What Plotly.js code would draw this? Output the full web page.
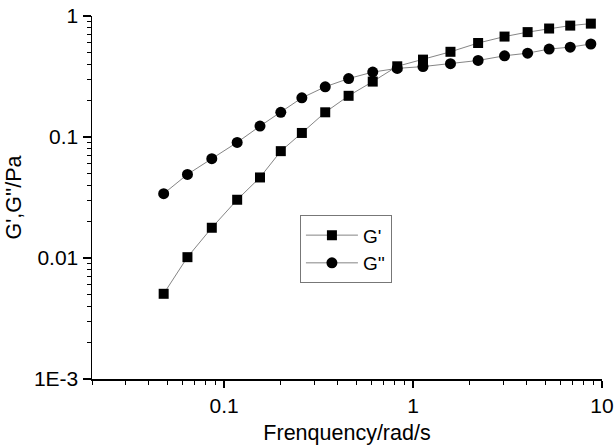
<!DOCTYPE html>
<html>
<head>
<meta charset="utf-8">
<script src="https://cdn.plot.ly/plotly-3.0.1.min.js"></script>
<style>html,body{margin:0;padding:0;background:#fff}#chart{width:614px;height:447px}</style>
</head>
<body>
<div id="chart"></div>
<script>
// Frequency (rad/s)
const frequency = [0.0479, 0.0640, 0.0861, 0.1173, 0.1549, 0.1996, 0.258, 0.343, 0.456, 0.612, 0.825, 1.129, 1.578, 2.21, 3.05, 4.04, 5.25, 6.79, 8.73];
// Storage modulus G' (Pa)
const gPrime = [0.00506, 0.01016, 0.01778, 0.0303, 0.0463, 0.0764, 0.108, 0.160, 0.219, 0.287, 0.384, 0.436, 0.506, 0.598, 0.676, 0.736, 0.788, 0.833, 0.865];
// Loss modulus G'' (Pa)
const gDoublePrime = [0.0340, 0.0491, 0.0662, 0.0902, 0.123, 0.160, 0.2106, 0.260, 0.304, 0.344, 0.369, 0.382, 0.404, 0.429, 0.469, 0.493, 0.533, 0.553, 0.587];
// Axis tick labels
const yTickVals = [0.001, 0.01, 0.1, 1];
const yTickText = ['1E-3', '0.01', '0.1', '1'];
const xTickVals = [0.1, 1, 10];
const xTickText = ['0.1', '1', '10'];

function minorVals(lo, hi) {
  const out = [];
  for (let e = lo; e < hi; e++) {
    for (let m = 2; m <= 9; m++) out.push(m * Math.pow(10, e));
  }
  return out;
}

const font = 'Liberation Sans, Arial, sans-serif';
const lineCol = '#666666';

const traces = [
  {
    x: frequency, y: gPrime, name: "G'", type: 'scatter', mode: 'lines+markers',
    line: {color: lineCol, width: 0.8},
    marker: {symbol: 'square', size: 10, color: '#000'}
  },
  {
    x: frequency, y: gDoublePrime, name: "G''", type: 'scatter', mode: 'lines+markers',
    line: {color: lineCol, width: 0.8},
    marker: {symbol: 'circle', size: 11, color: '#000'}
  }
];

const layout = {
  width: 614, height: 447,
  margin: {l: 92.3, r: 12.3, t: 15.7, b: 68},
  paper_bgcolor: '#fff', plot_bgcolor: '#fff',
  font: {family: font, size: 21, color: '#000'},
  showlegend: true,
  legend: {
    x: 0.4077, y: 0.451, xanchor: 'left', yanchor: 'top',
    bgcolor: '#fff', bordercolor: '#777', borderwidth: 1,
    font: {family: font, size: 19, color: '#000'},
    itemwidth: 52, tracegroupgap: 0
  },
  xaxis: {
    type: 'log', range: [Math.log10(0.02), 1],
    tickmode: 'array', tickvals: xTickVals, ticktext: xTickText,
    ticks: 'outside', ticklen: 7, tickwidth: 1.2, tickcolor: '#000',
    showline: true, linecolor: '#000', linewidth: 1.5,
    showgrid: false, zeroline: false, mirror: false,
    tickfont: {family: font, size: 21, color: '#000'},
    minor: {tickmode: 'array', tickvals: minorVals(-2, 1), ticks: 'outside', ticklen: 4, tickwidth: 1, tickcolor: '#000', showgrid: false},
    title: {text: 'Frenquency/rad/s', font: {family: font, size: 21.5, color: '#000'}, standoff: 9}
  },
  yaxis: {
    type: 'log', range: [-3, 0],
    tickmode: 'array', tickvals: yTickVals, ticktext: yTickText,
    ticks: 'outside', ticklen: 8, tickwidth: 1.2, tickcolor: '#000',
    showline: true, linecolor: '#000', linewidth: 1.5,
    showgrid: false, zeroline: false, mirror: false,
    tickfont: {family: font, size: 21, color: '#000'},
    minor: {tickmode: 'array', tickvals: minorVals(-3, 0), ticks: 'outside', ticklen: 4, tickwidth: 1, tickcolor: '#000', showgrid: false},
    title: {text: "G',G''/Pa", font: {family: font, size: 21.5, color: '#000'}, standoff: 6}
  }
};

Plotly.newPlot('chart', traces, layout, {displayModeBar: false, staticPlot: true});
</script>
</body>
</html>
